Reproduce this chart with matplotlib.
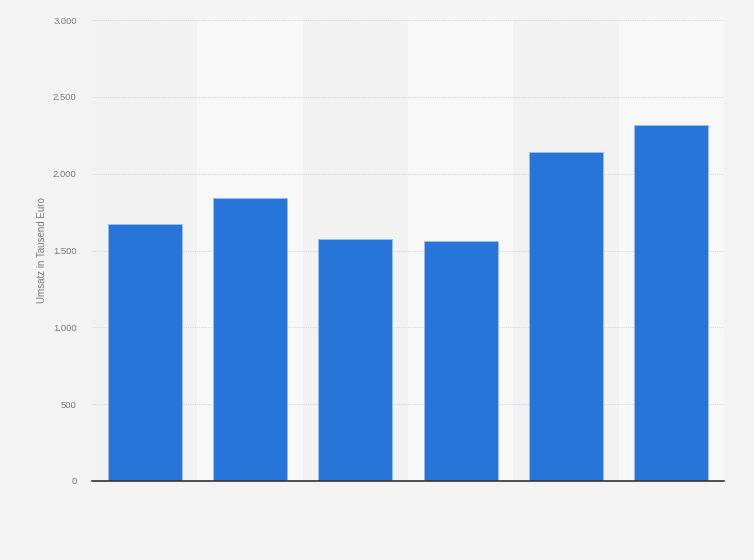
import matplotlib.pyplot as plt
from matplotlib.ticker import FuncFormatter

plt.rcParams['font.family'] = ['Liberation Sans', 'DejaVu Sans']

# Daten (Umsatz in Tausend Euro), Kategorien ohne Beschriftung im Original
kategorien = ['', '', '', '', '', '']
umsatz = [1670, 1840, 1573, 1560, 2143, 2318]
y_ticks = [0, 500, 1000, 1500, 2000, 2500, 3000]

bg = '#f3f3f3'
fig = plt.figure(figsize=(7.54, 5.60), dpi=100, facecolor=bg)
ax = fig.add_axes([92/754, 1 - 481/560, (724-92)/754, (481-20)/560])
ax.set_facecolor(bg)

x = list(range(len(umsatz)))

# abwechselnde Hintergrundstreifen
for i in x:
    ax.axvspan(i - 0.5, i + 0.5, color='#f2f2f2' if i % 2 == 0 else '#f8f8f8', zorder=0, lw=0)

ax.bar(x, umsatz, width=0.7, color='#2775d9', edgecolor='#9cc0ee', linewidth=0.6, zorder=3)

ax.set_xlim(-0.5, len(umsatz) - 0.5)
ax.set_ylim(0, 3000)
ax.set_yticks(y_ticks)
ax.yaxis.set_major_formatter(FuncFormatter(lambda v, p: f'{int(v):,}'.replace(',', '.')))
ax.set_xticks(x)
ax.set_xticklabels(kategorien)
ax.tick_params(axis='x', length=0)
ax.tick_params(axis='y', length=0, labelsize=6.8, labelcolor='#7a7a7a', pad=11)

ax.grid(axis='y', color='#dadada', linestyle=(0, (1, 1)), linewidth=0.8, zorder=1)
for s in ['top', 'right', 'left']:
    ax.spines[s].set_visible(False)
ax.spines['bottom'].set_color('#333333')
ax.spines['bottom'].set_linewidth(1.2)
ax.spines['bottom'].set_zorder(4)

ax.set_ylabel('Umsatz in Tausend Euro', fontsize=7, color='#7a7a7a', labelpad=4)

fig.savefig('out.png', dpi=100, facecolor=bg)
